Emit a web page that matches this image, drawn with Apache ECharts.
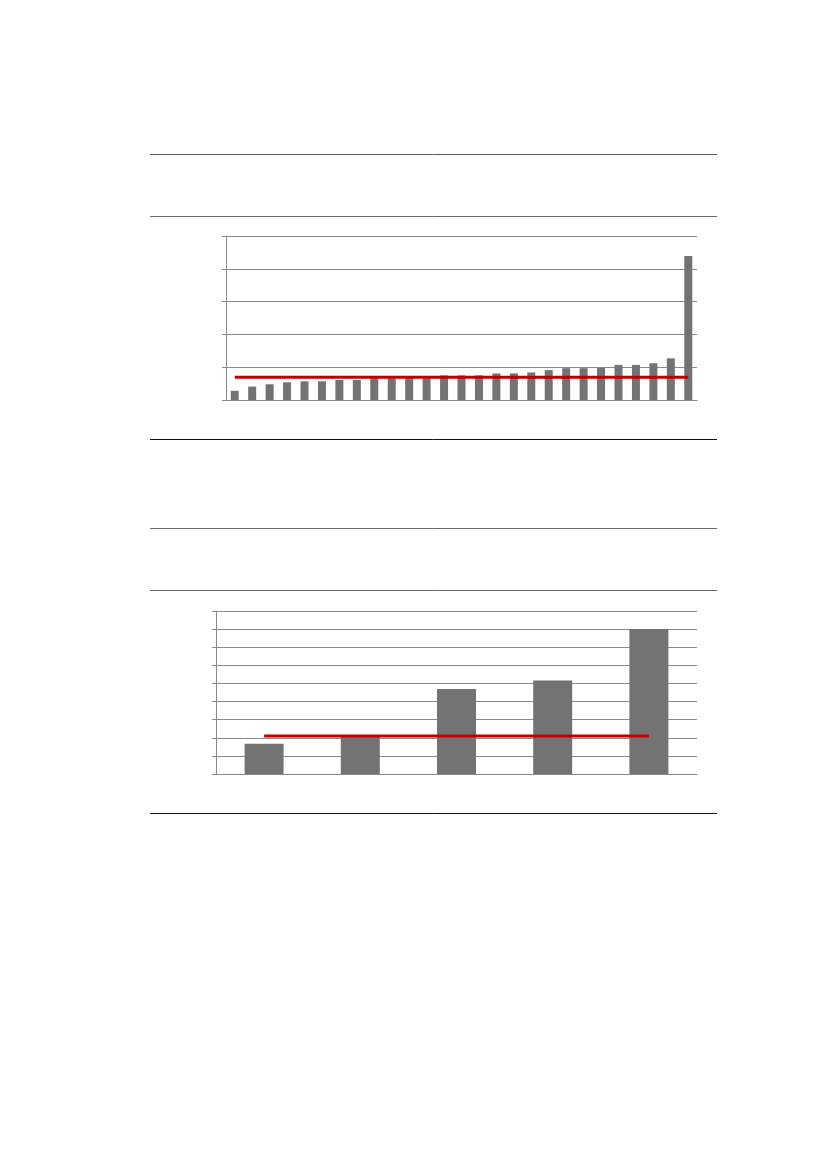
<!DOCTYPE html>
<html>
<head>
<meta charset="utf-8">
<script src="https://cdn.jsdelivr.net/npm/echarts@6/dist/echarts.min.js"></script>
<style>
  html, body { margin: 0; padding: 0; background: #fff; }
  #page { width: 827px; height: 1170px; }
</style>
</head>
<body>
<div id="page"></div>
<script>
    // chart 1: 27 sorted bars with a reference line
    var cats1 = ['1','2','3','4','5','6','7','8','9','10','11','12','13','14',
                 '15','16','17','18','19','20','21','22','23','24','25','26','27'];
    var bars1 = [0.28, 0.41, 0.48, 0.54, 0.57, 0.57, 0.61, 0.61, 0.66, 0.66, 0.66, 0.66,
                 0.75, 0.75, 0.75, 0.81, 0.81, 0.84, 0.91, 0.97, 0.97, 0.98,
                 1.07, 1.07, 1.12, 1.27, 4.39];
    var ref1 = [0.69, 0.69, 0.69, 0.69, 0.69, 0.69, 0.69, 0.69, 0.69, 0.69, 0.69, 0.69, 0.69, 0.69,
                0.69, 0.69, 0.69, 0.69, 0.69, 0.69, 0.69, 0.69, 0.69, 0.69, 0.69, 0.69, 0.69];

    // chart 2: 5 bars with a reference line
    var cats2 = ['1', '2', '3', '4', '5'];
    var bars2 = [1.67, 2.04, 4.70, 5.16, 8.01];
    var ref2 = [2.10, 2.10, 2.10, 2.10, 2.10];

    // horizontal page rules: [y, colour]
    var rules = [[154, '#555555'], [216, '#6a6a6a'], [439, '#111111'],
                 [528, '#6a6a6a'], [590, '#6a6a6a'], [813, '#111111']];

    var gridColor = '#8a8a8a';
    var barColor = '#737373';
    var redColor = '#c00000';

    function yAx(idx, max) {
        return {
            type: 'value', gridIndex: idx, min: 0, max: max, interval: 1,
            axisLabel: { show: false },
            axisLine: { show: true, lineStyle: { color: gridColor, width: 1 } },
            axisTick: { show: true, length: 4, lineStyle: { color: gridColor } },
            splitLine: { show: true, lineStyle: { color: gridColor, width: 1 } }
        };
    }
    function xAx(idx, data) {
        return {
            type: 'category', gridIndex: idx, data: data,
            axisLabel: { show: false },
            axisTick: { show: false },
            axisLine: { show: true, lineStyle: { color: gridColor, width: 1 } }
        };
    }

    var myChart = echarts.init(document.getElementById('page'));

    option = {
        animation: false,
        grid: [
            { left: 226, right: 130, top: 236, bottom: 770 },
            { left: 216, right: 130, top: 611, bottom: 396 }
        ],
        xAxis: [xAx(0, cats1), xAx(1, cats2)],
        yAxis: [yAx(0, 5), yAx(1, 9)],
        graphic: rules.map(function (r) {
            return {
                type: 'line',
                shape: { x1: 150, y1: r[0] + 0.5, x2: 717, y2: r[0] + 0.5 },
                style: { stroke: r[1], lineWidth: 1 }
            };
        }),
        series: [
            {
                type: 'bar', xAxisIndex: 0, yAxisIndex: 0,
                barWidth: 8,
                itemStyle: { color: barColor },
                data: bars1
            },
            {
                type: 'line', xAxisIndex: 0, yAxisIndex: 0,
                symbol: 'none', z: 5,
                lineStyle: { color: redColor, width: 3 },
                data: ref1
            },
            {
                type: 'bar', xAxisIndex: 1, yAxisIndex: 1,
                barWidth: 39,
                itemStyle: { color: barColor },
                data: bars2
            },
            {
                type: 'line', xAxisIndex: 1, yAxisIndex: 1,
                symbol: 'none', z: 5,
                lineStyle: { color: redColor, width: 3 },
                data: ref2
            }
        ]
    };

    myChart.setOption(option);
</script>
</body>
</html>
